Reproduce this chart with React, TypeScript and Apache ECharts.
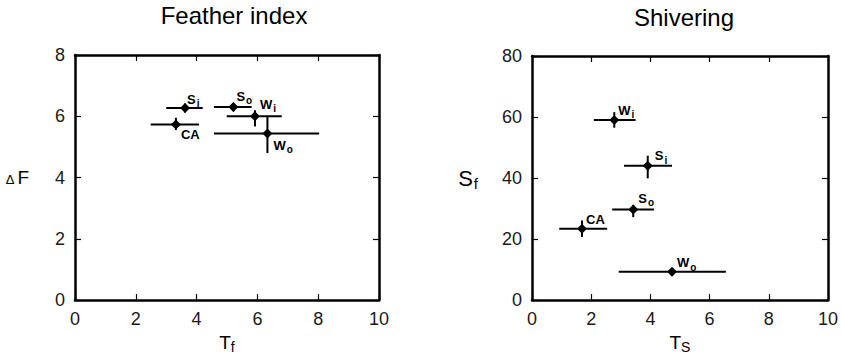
import React, { useEffect, useRef } from "react";
import * as echarts from "echarts";

// Feather index panel
const featherNames = ["S|i", "S|o", "W|i", "CA|", "W|o"];
const featherT = [3.62, 5.21, 5.92, 3.32, 6.33];
const featherDF = [6.27, 6.3, 6.0, 5.73, 5.44];
const featherTLow = [3.0, 4.57, 4.99, 2.49, 4.57];
const featherTHigh = [4.2, 5.81, 6.8, 4.08, 8.03];
const featherDFLow = [6.12, 6.16, 5.67, 5.55, 4.8];
const featherDFHigh = [6.42, 6.43, 6.2, 5.95, 6.02];
const featherLabelOffsets = [[2, -9], [3, -11], [5, -12], [5, 10], [6, 12]];

// Shivering panel
const shivNames = ["W|i", "S|i", "S|o", "CA|", "W|o"];
const shivT = [2.78, 3.91, 3.42, 1.69, 4.73];
const shivS = [59, 44, 29.7, 23.4, 9.3];
const shivTLow = [2.09, 3.11, 2.71, 0.92, 2.93];
const shivTHigh = [3.5, 4.73, 4.12, 2.54, 6.55];
const shivSLow = [56.5, 39.9, 27.2, 20.7, 9.3];
const shivSHigh = [61.6, 47.3, 31.2, 26.1, 9.3];
const shivLabelOffsets = [[4, -10], [7, -10], [5, -11], [4, -9], [5, -9]];

const xTicksMax = 10;
const featherYMax = 8;
const shivYMax = 80;

const FONT = "'Liberation Sans', Arial, Helvetica, sans-serif";
const INK = "#000";
const SYM = 10;

function labelText(name: string) {
  const [m, s] = name.split("|");
  return s ? `{m|${m}}{s|${s}}` : `{m|${m}}`;
}

const labelRich = {
  m: { fontSize: 13, fontWeight: "bold", lineHeight: 13, verticalAlign: "top", color: INK, fontFamily: FONT },
  s: { fontSize: 10, fontWeight: "bold", lineHeight: 10, verticalAlign: "top", padding: [6, 0, 0, 1], color: INK, fontFamily: FONT },
};

function errorSeries(t: number[], v: number[], tl: number[], th: number[], vl: number[], vh: number[]) {
  return {
    type: "custom",
    silent: true,
    data: t.map((x, i) => [x, v[i], tl[i], th[i], vl[i], vh[i]]),
    renderItem: (_params: any, api: any) => {
      const x = api.value(0), y = api.value(1);
      const a = api.coord([api.value(2), y]);
      const b = api.coord([api.value(3), y]);
      const c = api.coord([x, api.value(4)]);
      const d = api.coord([x, api.value(5)]);
      const style = { stroke: INK, lineWidth: 2 };
      return {
        type: "group",
        children: [
          { type: "line", shape: { x1: a[0], y1: a[1], x2: b[0], y2: b[1] }, style },
          { type: "line", shape: { x1: c[0], y1: c[1], x2: d[0], y2: d[1] }, style },
        ],
      };
    },
    z: 2,
  };
}

function pointSeries(t: number[], v: number[], names: string[], offs: number[][]) {
  return {
    type: "scatter",
    symbol: "diamond",
    symbolSize: SYM,
    itemStyle: { color: INK, opacity: 1 },
    emphasis: { disabled: true },
    z: 3,
    data: t.map((x, i) => ({
      value: [x, v[i]],
      label: {
        show: true,
        position: "right",
        distance: 0,
        offset: [offs[i][0] - SYM / 2, offs[i][1]],
        color: INK,
        opacity: 1,
        formatter: labelText(names[i]),
        rich: labelRich,
      },
    })),
  };
}

const tickLabel = { fontSize: 18, color: "#1a1a1a", fontFamily: FONT };
const line = { show: true, onZero: false, lineStyle: { color: INK, width: 2.5 } };
const tick = { show: true, inside: true, length: 6, lineStyle: { color: INK, width: 1.2 } };

function xAxes(name: string) {
  return [
    {
      type: "value", min: 0, max: xTicksMax, interval: 2, position: "bottom",
      axisLine: line, axisTick: tick, splitLine: { show: false },
      axisLabel: { ...tickLabel, margin: 10, showMaxLabel: true },
      name, nameLocation: "middle", nameGap: 22,
      nameTextStyle: {
        rich: {
          m: { fontSize: 19, color: INK, fontFamily: FONT, lineHeight: 19, verticalAlign: "top" },
          s: { fontSize: 14, color: INK, fontFamily: FONT, lineHeight: 14, verticalAlign: "top", padding: [7, 0, 0, 0] },
        },
      },
    },
    {
      type: "value", min: 0, max: xTicksMax, interval: 2, position: "top",
      axisLine: line, axisTick: tick, splitLine: { show: false }, axisLabel: { show: false },
    },
  ];
}

function yAxes(max: number, interval: number, name: string, gap: number, rich: any) {
  return [
    {
      type: "value", min: 0, max, interval, position: "left",
      axisLine: line, axisTick: tick, splitLine: { show: false },
      axisLabel: { ...tickLabel, margin: 10 },
      name, nameLocation: "middle", nameRotate: 0, nameGap: gap,
      nameTextStyle: { rich },
    },
    {
      type: "value", min: 0, max, interval, position: "right",
      axisLine: line, axisTick: tick, splitLine: { show: false }, axisLabel: { show: false },
    },
  ];
}

export default function App() {
  const ref = useRef<HTMLDivElement>(null);
  useEffect(() => {
    if (!ref.current) return;
    const chart = echarts.init(ref.current, undefined, { renderer: "svg" });
    const xa0 = xAxes("{m|T}{s|f}");
    const xa1 = xAxes("{m|T}{s|S}");
    const ya0 = yAxes(featherYMax, 2, "{d|Δ}{m|F}", 46, {
      d: { fontSize: 13, color: INK, fontFamily: FONT, padding: [3, 3, 0, 0] },
      m: { fontSize: 19, color: INK, fontFamily: FONT },
    });
    const ya1 = yAxes(shivYMax, 20, "{m|S}{s|f}", 54, {
      m: { fontSize: 22, color: INK, fontFamily: FONT, lineHeight: 22, verticalAlign: "top" },
      s: { fontSize: 15, color: INK, fontFamily: FONT, lineHeight: 15, verticalAlign: "top", padding: [9, 0, 0, 1] },
    });
    chart.setOption({
      animation: false,
      backgroundColor: "#fff",
      grid: [
        { left: 75, top: 55, width: 304, height: 247 },
        { left: 532, top: 56, width: 304, height: 246 },
      ],
      xAxis: [xa0[0], xa0[1], xa1[0], xa1[1]].map((a: any, i) => ({ ...a, gridIndex: i < 2 ? 0 : 1 })),
      yAxis: [ya0[0], ya0[1], ya1[0], ya1[1]].map((a: any, i) => ({ ...a, gridIndex: i < 2 ? 0 : 1 })),
      graphic: [
        { type: "text", x: 234, y: 15, style: { text: "Feather index", fontSize: 24, fill: INK, fontFamily: FONT, textAlign: "center", textVerticalAlign: "middle" } },
        { type: "text", x: 684, y: 17, style: { text: "Shivering", fontSize: 24, fill: INK, fontFamily: FONT, textAlign: "center", textVerticalAlign: "middle" } },
      ],
      series: [
        { ...errorSeries(featherT, featherDF, featherTLow, featherTHigh, featherDFLow, featherDFHigh), xAxisIndex: 0, yAxisIndex: 0 },
        { ...pointSeries(featherT, featherDF, featherNames, featherLabelOffsets), xAxisIndex: 0, yAxisIndex: 0 },
        { ...errorSeries(shivT, shivS, shivTLow, shivTHigh, shivSLow, shivSHigh), xAxisIndex: 2, yAxisIndex: 2 },
        { ...pointSeries(shivT, shivS, shivNames, shivLabelOffsets), xAxisIndex: 2, yAxisIndex: 2 },
      ],
    });
    return () => chart.dispose();
  }, []);
  return <div ref={ref} style={{ position: "fixed", left: 0, top: 0, width: 841, height: 359, background: "#fff" }} />;
}
